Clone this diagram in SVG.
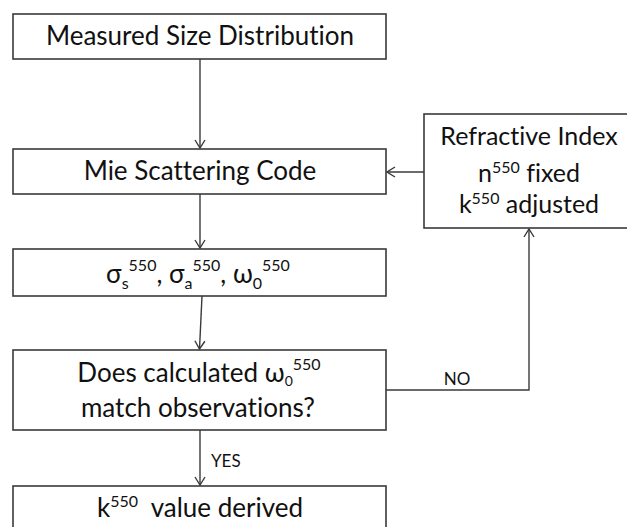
<svg xmlns="http://www.w3.org/2000/svg" width="627" height="527" viewBox="0 0 627 527">
<style>
.box{fill:#fff;stroke:#3a3a3a;stroke-width:1.6}
.t{font-family:Lato,"Open Sans","Liberation Sans",sans-serif;fill:#111;text-anchor:middle;font-variant-ligatures:none}
.big{font-size:26px}
.mid{font-size:25px}
.sm{font-size:17px}
.sup{font-size:16px}
.sub{font-size:14px}
.con{fill:none;stroke:#3a3a3a;stroke-width:1.4}
</style>
<defs>
<marker id="ah" viewBox="0 0 10 12" refX="9" refY="6" markerWidth="10" markerHeight="12" markerUnits="userSpaceOnUse" orient="auto">
<path d="M1,1 L9,6 L1,11" fill="none" stroke="#3a3a3a" stroke-width="1.4"/>
</marker>
</defs>
<g id="connectors">
<line class="con" x1="200" y1="59" x2="200" y2="148" marker-end="url(#ah)"/>
<line class="con" x1="200" y1="194" x2="200" y2="248" marker-end="url(#ah)"/>
<line class="con" x1="202" y1="296" x2="199.5" y2="349" marker-end="url(#ah)"/>
<line class="con" x1="200" y1="430" x2="200" y2="485" marker-end="url(#ah)"/>
<line class="con" x1="424" y1="172" x2="387" y2="172" marker-end="url(#ah)"/>
<polyline class="con" points="386,390 529,390 529,229" marker-end="url(#ah)"/>
<text class="t sm" x="211" y="467" style="text-anchor:start">YES</text>
<text class="t sm" x="457" y="385">NO</text>
</g>
<g id="measured">
<rect class="box" x="13" y="14" width="373" height="45"/>
<text class="t big" x="200" y="45">Measured Size Distribution</text>
</g>
<g id="mie">
<rect class="box" x="13" y="149" width="373" height="45"/>
<text class="t big" x="200" y="180">Mie Scattering Code</text>
</g>
<g id="sigma">
<rect class="box" x="13" y="249" width="373" height="47"/>
<text class="t big" x="198" y="283">σ<tspan class="sup" dy="6">s</tspan><tspan class="sup" dy="-18">550</tspan><tspan dy="12">, σ</tspan><tspan class="sup" dy="6">a</tspan><tspan class="sup" dy="-18">550</tspan><tspan dy="12">, ω</tspan><tspan class="sup" dy="6">0</tspan><tspan class="sup" dy="-18">550</tspan></text>
</g>
<g id="refractive">
<rect class="box" x="424" y="114" width="210" height="114"/>
<text class="t mid" x="529" y="145">Refractive Index</text>
<text class="t mid" x="529" y="182">n<tspan class="sup" dy="-9">550</tspan><tspan dy="9"> fixed</tspan></text>
<text class="t mid" x="529" y="213">k<tspan class="sup" dy="-9">550</tspan><tspan dy="9"> adjusted</tspan></text>
</g>
<g id="match">
<rect class="box" x="13" y="350" width="373" height="80"/>
<text class="t big" x="199" y="382">Does calculated ω<tspan class="sub" dy="4">0</tspan><tspan class="sup" dy="-16">550</tspan></text>
<text class="t big" x="198" y="417">match observations?</text>
</g>
<g id="derived">
<rect class="box" x="13" y="486" width="373" height="60"/>
<text class="t big" x="200" y="517">k<tspan class="sup" dy="-10">550</tspan><tspan dy="10" xml:space="preserve">  value derived</tspan></text>
</g>
</svg>
